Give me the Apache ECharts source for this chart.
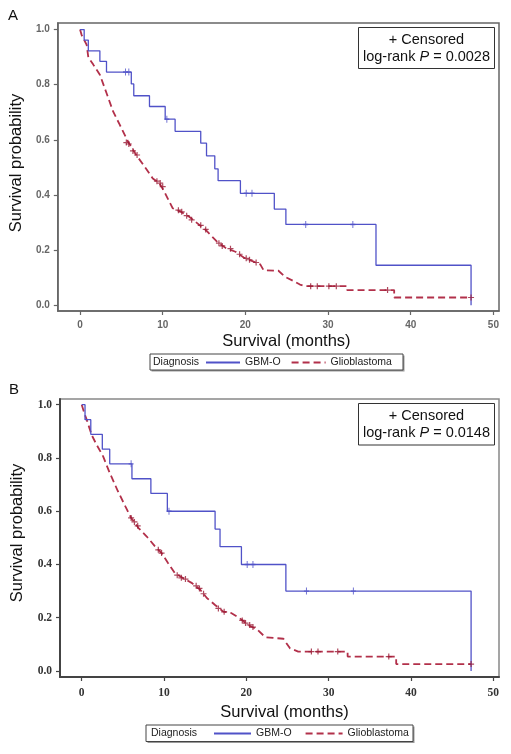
<!DOCTYPE html>
<html><head><meta charset="utf-8">
<script src="https://cdn.jsdelivr.net/npm/echarts@6/dist/echarts.min.js"></script>
<style>html,body{margin:0;padding:0;background:#fff}#c{width:511px;height:754px}</style>
</head><body><div id="c"></div>
<script>
// ---- data ----
const xTicks = [0, 10, 20, 30, 40, 50];
const yTicks = [0, 0.2, 0.4, 0.6, 0.8, 1.0];
const seriesNames = ['GBM-O', 'Glioblastoma'];
const pValueA = '0.0028';
const pValueB = '0.0148';

// Panel A: [months, survival probability]
const gbmA = [[0,1],[0.5,0.962],[1.0,0.923],[2.4,0.885],[3.2,0.846],[6.2,0.803],[6.5,0.76],[8.4,0.721],[10.3,0.675],[11.5,0.631],[14.6,0.588],[15.3,0.542],[16.3,0.495],[16.7,0.452],[19.4,0.406],[23.5,0.349],[24.9,0.293],[35.8,0.145],[47.3,0]];
const gbmACens = [[5.5,0.846],[5.9,0.846],[10.5,0.675],[20.1,0.406],[20.8,0.406],[27.3,0.293],[33.0,0.293]];
// Glioblastoma: dense KM curve, listed as its visible corners
const gbA = [[0,1],[0.2,0.98],[0.8,0.945],[1.0,0.90],[1.6,0.873],[2.4,0.836],[3.2,0.77],[4.0,0.703],[4.8,0.655],[5.8,0.594],[6.8,0.545],[7.8,0.503],[8.8,0.46],[9.6,0.443],[10.2,0.412],[11.2,0.352],[12.2,0.339],[13.2,0.321],[14.2,0.297],[15.2,0.273],[16.6,0.23],[17.6,0.208],[18.8,0.194],[19.8,0.173],[21.0,0.158],[21.8,0.148],[22.2,0.127],[24.0,0.125],[24.8,0.103],[26.0,0.085],[26.6,0.075],[27.2,0.069],[32.3,0.069],[32.3,0.055],[38.0,0.055],[38.0,0.028],[47.3,0.028]];
const gbACens = [[5.6,0.59],[5.9,0.585],[6.4,0.56],[6.9,0.545],[9.3,0.45],[9.7,0.443],[10.0,0.43],[11.9,0.345],[12.3,0.339],[12.9,0.325],[13.5,0.31],[14.6,0.29],[15.2,0.275],[16.8,0.225],[17.2,0.215],[18.2,0.205],[19.3,0.185],[20.1,0.17],[20.5,0.165],[21.3,0.155],[27.9,0.069],[28.7,0.069],[30.1,0.069],[31.0,0.069],[37.2,0.055],[47.3,0.028]];

// Panel B
const gbmB = [[0,1],[0.4,0.944],[1.1,0.889],[2.5,0.833],[3.4,0.778],[6.1,0.722],[8.4,0.667],[10.4,0.60],[16.2,0.533],[16.8,0.467],[19.4,0.40],[24.8,0.30],[47.3,0]];
const gbmBCens = [[6.0,0.778],[10.6,0.60],[20.1,0.40],[20.8,0.40],[27.3,0.30],[33.0,0.30]];
const gbB = [[0,1],[0.3,0.97],[0.6,0.944],[1.2,0.887],[1.8,0.85],[2.6,0.806],[3.4,0.744],[4.4,0.675],[5.3,0.618],[6.0,0.575],[6.9,0.537],[7.9,0.505],[8.9,0.468],[9.7,0.443],[10.5,0.405],[11.3,0.368],[12.3,0.349],[13.4,0.33],[14.4,0.305],[15.2,0.274],[16.2,0.248],[17.2,0.223],[18.2,0.217],[19.2,0.198],[20.2,0.173],[21.3,0.156],[22.3,0.127],[24.5,0.121],[25.3,0.085],[26.3,0.073],[32.3,0.073],[32.3,0.054],[38.2,0.054],[38.2,0.026],[47.3,0.026]];
const gbBCens = [[6.0,0.575],[6.4,0.56],[6.8,0.545],[9.3,0.455],[9.7,0.443],[11.6,0.36],[12.1,0.35],[12.6,0.345],[13.9,0.32],[14.3,0.31],[14.8,0.29],[16.6,0.235],[17.3,0.222],[19.5,0.19],[19.9,0.18],[20.4,0.173],[20.8,0.165],[27.9,0.073],[28.7,0.073],[31.1,0.073],[37.3,0.054],[47.3,0.026]];

// ---- styles ----
const BLUE = '#5052c8';
const RED = '#b2304a';
const RED_MARK = '#9a1a35';
const SANS = '"Liberation Sans", Arial, Helvetica, sans-serif';
const SERIF = '"Liberation Serif", "Times New Roman", serif';
const PLUS = 'path://M4,0H6V4H10V6H6V10H4V6H0V4H4Z';

const chart = echarts.init(document.getElementById('c'), null, {renderer: 'canvas'});

function xAxisCfg(gridIndex, min, max, lab, axisColor, axisWidth, margin, gapName, padName) {
  return {
    type: 'value', gridIndex, min, max,
    name: 'Survival (months)', nameLocation: 'middle', nameGap: gapName,
    nameTextStyle: {fontFamily: SANS, fontSize: 16.5, color: '#111', padding: padName},
    axisLine: {show: true, onZero: false, lineStyle: {color: axisColor, width: axisWidth}},
    axisTick: {show: true, length: 4, customValues: xTicks, lineStyle: {color: axisColor, width: 1.2}},
    axisLabel: Object.assign({customValues: xTicks, margin: margin}, lab),
    splitLine: {show: false}
  };
}
function yAxisCfg(gridIndex, min, max, lab, axisColor, axisWidth, gapName, padName) {
  return {
    type: 'value', gridIndex, min, max,
    name: 'Survival probability', nameLocation: 'middle', nameGap: gapName,
    nameTextStyle: {fontFamily: SANS, fontSize: 16.5, color: '#111', padding: padName},
    axisLine: {show: true, onZero: false, lineStyle: {color: axisColor, width: axisWidth}},
    axisTick: {show: true, length: 4, customValues: yTicks, lineStyle: {color: axisColor, width: 1.2}},
    axisLabel: Object.assign({customValues: yTicks, margin: 8, formatter: v => v.toFixed(1)}, lab),
    splitLine: {show: false}
  };
}

const labA = {fontFamily: SANS, fontSize: 10, fontWeight: 'bold', color: '#666'};
const labB = {fontFamily: SERIF, fontSize: 11.5, fontWeight: 'bold', color: '#333'};

function curve(name, data, xi, color, dashed) {
  return {
    type: 'line', name, data, xAxisIndex: xi, yAxisIndex: xi, step: dashed ? false : 'end',
    symbol: 'none', showSymbol: false, silent: true, z: dashed ? 3 : 4,
    lineStyle: {color, width: dashed ? 1.8 : 1.3, type: dashed ? [7, 4] : 'solid'},
    itemStyle: {color}
  };
}
function marks(name, data, xi, color, size) {
  return {
    type: 'scatter', name, data, xAxisIndex: xi, yAxisIndex: xi,
    symbol: PLUS, symbolSize: size, silent: true, z: 5,
    itemStyle: {color}
  };
}

function legendCfg(left, top, w, gap) {
  return {
    data: seriesNames, left, top, orient: 'horizontal', padding: 0, z: 30,
    itemWidth: w, itemHeight: 10, itemGap: gap, selectedMode: false,
    itemStyle: {opacity: 0, borderWidth: 0},
    textStyle: {fontFamily: SANS, fontSize: 10.5, color: '#222'}
  };
}

function censBox(x, y, w, h, p) {
  const cx = x + w / 2;
  return [
    {type: 'rect', shape: {x, y, width: w, height: h}, style: {fill: '#fff', stroke: '#333', lineWidth: 1}, z: 10},
    {type: 'text', x: cx, y: y + 12, z: 11, style: {text: '+ Censored', font: '14.5px ' + SANS, fill: '#111', align: 'center', verticalAlign: 'middle'}},
    {type: 'text', x: cx, y: y + 29.5, z: 11, style: {
      text: '{a|log-rank }{i|P}{a| = ' + p + '}', align: 'center', verticalAlign: 'middle',
      rich: {a: {fontFamily: SANS, fontSize: 14.5, fill: '#111'}, i: {fontFamily: SANS, fontSize: 14.5, fontStyle: 'italic', fill: '#111'}}
    }}
  ];
}
function legBox(x, y, w, h, tx) {
  return [
    {type: 'rect', shape: {x: x + 1.5, y: y + 1.5, width: w, height: h}, style: {fill: '#999'}, z: 0},
    {type: 'rect', shape: {x, y, width: w, height: h}, style: {fill: '#fff', stroke: '#444', lineWidth: 1}, z: 1},
    {type: 'text', x: tx, y: y + h / 2, z: 2, style: {text: 'Diagnosis', font: '10.5px ' + SANS, fill: '#222', verticalAlign: 'middle'}}
  ];
}

const option = {
  animation: false,
  backgroundColor: '#fff',
  grid: [
    {left: 54, top: 23, width: 445, height: 288, show: true, borderColor: '#666', borderWidth: 1.5, backgroundColor: 'transparent'},
    {left: 60, top: 399, width: 439, height: 278, show: true, borderColor: '#888', borderWidth: 1.5, backgroundColor: 'transparent'}
  ],
  xAxis: [
    xAxisCfg(0, -2.69, 50.68, labA, '#666', 1.5, 9, 22, [0, 0, 0, 16]),
    xAxisCfg(1, -2.64, 50.69, labB, '#444', 2, 10, 27, [0, 0, 0, 10])
  ],
  yAxis: [
    yAxisCfg(0, -0.021, 1.024, labA, '#666', 1.5, 28, [0, 0, 0, 8]),
    yAxisCfg(1, -0.0226, 1.0215, labB, '#444', 2, 34, [0, 0, 0, 10])
  ],
  legend: [legendCfg(205, 357, 34, 10), legendCfg(213, 728, 37, 13)],
  series: [
    curve('Glioblastoma', gbA, 0, RED, true),
    curve('GBM-O', gbmA, 0, BLUE, false),
    marks('GBM-O censored A', gbmACens, 0, BLUE, [5, 7]),
    marks('Glioblastoma censored A', gbACens, 0, RED_MARK, [6, 6]),
    curve('Glioblastoma', gbB, 1, RED, true),
    curve('GBM-O', gbmB, 1, BLUE, false),
    marks('GBM-O censored B', gbmBCens, 1, BLUE, [5, 7]),
    marks('Glioblastoma censored B', gbBCens, 1, RED_MARK, [6, 6])
  ],
  graphic: [
    {type: 'text', x: 8, y: 8, style: {text: 'A', font: '15px ' + SANS, fill: '#111'}},
    {type: 'text', x: 9, y: 382, style: {text: 'B', font: '15px ' + SANS, fill: '#111'}},
    ...censBox(358.5, 27.5, 136, 41, pValueA),
    ...censBox(358.5, 403.5, 136, 41.5, pValueB),
    ...legBox(150, 354, 253, 16, 153),
    ...legBox(146, 725, 267, 16.5, 151)
  ]
};
chart.setOption(option);
</script></body></html>
